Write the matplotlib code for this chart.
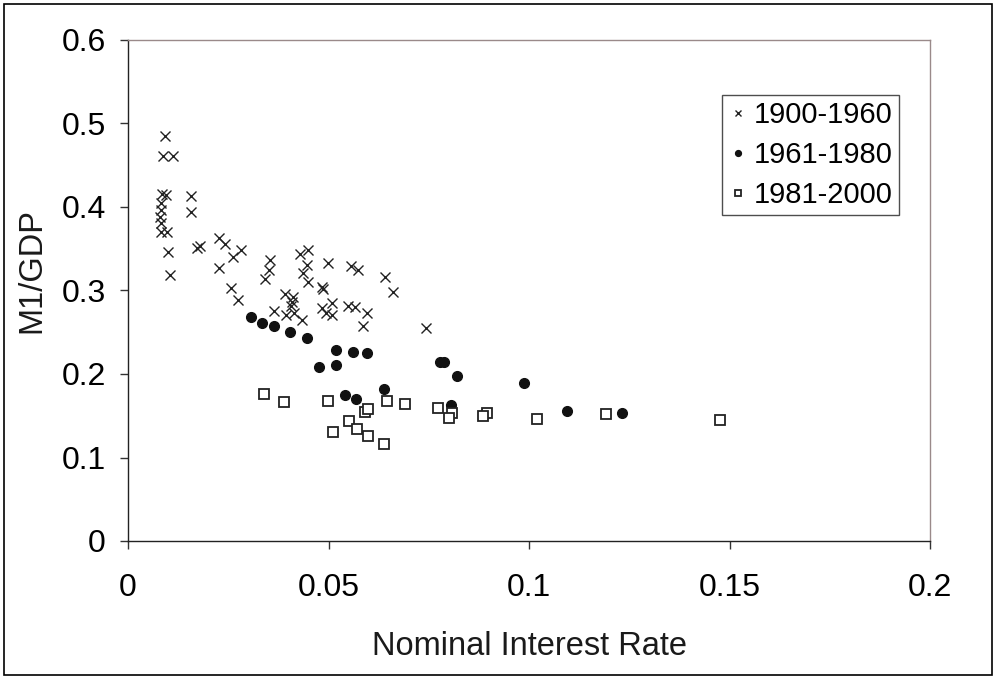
import matplotlib.pyplot as plt
from matplotlib.patches import Rectangle

plt.rcParams['font.family'] = ['Liberation Sans', 'DejaVu Sans']

# --- datos ---
# 1900-1960 (cruces)
x_1900 = [0.0092, 0.0087, 0.0112, 0.0085, 0.0095, 0.0157, 0.0082, 0.0082, 0.0080, 0.0082,
          0.0082, 0.0097, 0.0157, 0.0100, 0.0172, 0.0180, 0.0105, 0.0227, 0.0242, 0.0282,
          0.0262, 0.0227, 0.0257, 0.0274, 0.0354, 0.0352, 0.0342, 0.0429, 0.0449, 0.0446,
          0.0436, 0.0449, 0.0499, 0.0556, 0.0574, 0.0641, 0.0661, 0.0484, 0.0486, 0.0392,
          0.0412, 0.0409, 0.0407, 0.0364, 0.0394, 0.0414, 0.0434, 0.0484, 0.0509, 0.0494,
          0.0509, 0.0549, 0.0566, 0.0596, 0.0586, 0.0743]
y_1900 = [0.485, 0.461, 0.461, 0.416, 0.414, 0.413, 0.405, 0.396, 0.388, 0.381,
          0.370, 0.370, 0.394, 0.346, 0.351, 0.353, 0.319, 0.363, 0.356, 0.349,
          0.340, 0.327, 0.303, 0.289, 0.337, 0.325, 0.314, 0.344, 0.349, 0.331,
          0.321, 0.310, 0.333, 0.329, 0.325, 0.316, 0.298, 0.304, 0.302, 0.296,
          0.292, 0.286, 0.281, 0.275, 0.271, 0.273, 0.265, 0.279, 0.285, 0.273,
          0.271, 0.281, 0.280, 0.273, 0.257, 0.255]

# 1961-1980 (puntos)
x_1961 = [0.0307, 0.0334, 0.0364, 0.0404, 0.0446, 0.0519, 0.0561, 0.0596, 0.0476, 0.0519,
          0.0778, 0.0788, 0.0821, 0.0638, 0.0541, 0.0569, 0.0806, 0.0988, 0.1095, 0.1232]
y_1961 = [0.268, 0.261, 0.257, 0.250, 0.243, 0.229, 0.226, 0.225, 0.208, 0.211,
          0.214, 0.214, 0.198, 0.182, 0.175, 0.170, 0.163, 0.189, 0.156, 0.153]

# 1981-2000 (cuadrados)
x_1981 = [0.0339, 0.0389, 0.0499, 0.0591, 0.0599, 0.0646, 0.0691, 0.0773, 0.0808, 0.0801,
          0.0551, 0.0571, 0.0511, 0.0599, 0.0638, 0.0895, 0.0885, 0.1020, 0.1192, 0.1476]
y_1981 = [0.176, 0.166, 0.168, 0.154, 0.158, 0.168, 0.164, 0.159, 0.153, 0.147,
          0.144, 0.134, 0.131, 0.126, 0.116, 0.153, 0.150, 0.146, 0.152, 0.145]

fig = plt.figure(figsize=(9.96, 6.79), dpi=100)
ax = fig.add_axes([128 / 996, 1 - 541 / 679, 802 / 996, 501 / 679])

# marco exterior de la figura
fig.patches.append(Rectangle((4 / 996, 4 / 679), 988 / 996, 671 / 679, transform=fig.transFigure,
                             fill=False, edgecolor='black', linewidth=1.2))

ax.plot(x_1900, y_1900, linestyle='none', marker='x', markersize=7, markeredgewidth=1.0,
        color='#222222', label='1900-1960')
ax.plot(x_1961, y_1961, linestyle='none', marker='o', markersize=7,
        color='#111111', label='1961-1980')
ax.plot(x_1981, y_1981, linestyle='none', marker='s', markersize=6.5, markeredgewidth=1.3,
        markerfacecolor='white', markeredgecolor='#222222', label='1981-2000')

ax.set_xlim(0, 0.2)
ax.set_ylim(0, 0.6)
ax.set_xticks([0, 0.05, 0.1, 0.15, 0.2])
ax.set_xticklabels(['0', '0.05', '0.1', '0.15', '0.2'])
ax.set_yticks([0, 0.1, 0.2, 0.3, 0.4, 0.5, 0.6])
ax.set_yticklabels(['0', '0.1', '0.2', '0.3', '0.4', '0.5', '0.6'])
ax.tick_params(direction='out', length=6, width=1, labelsize=23, color='#333333')
ax.tick_params(axis='x', pad=17)
ax.tick_params(axis='y', pad=10)

for s in ['top', 'right']:
    ax.spines[s].set_color('#9a8a8a')
    ax.spines[s].set_linewidth(1)
for s in ['left', 'bottom']:
    ax.spines[s].set_color('#222222')
    ax.spines[s].set_linewidth(1)

ax.set_xlabel('Nominal Interest Rate', fontsize=23.5, labelpad=20, color='#1a1a1a')
ax.set_ylabel('M1/GDP', fontsize=23.5, color='#1a1a1a')
ax.yaxis.set_label_coords(-0.1, 0.539)

leg = ax.legend(loc='upper right', bbox_to_anchor=(0.961, 0.890), fontsize=21, frameon=True,
                fancybox=False, edgecolor='#222222', markerscale=0.6, handlelength=0.7,
                handletextpad=0.2, borderpad=0.2, labelspacing=0.41, borderaxespad=0)
leg.get_frame().set_linewidth(1)

fig.savefig('out.png', dpi=100)
